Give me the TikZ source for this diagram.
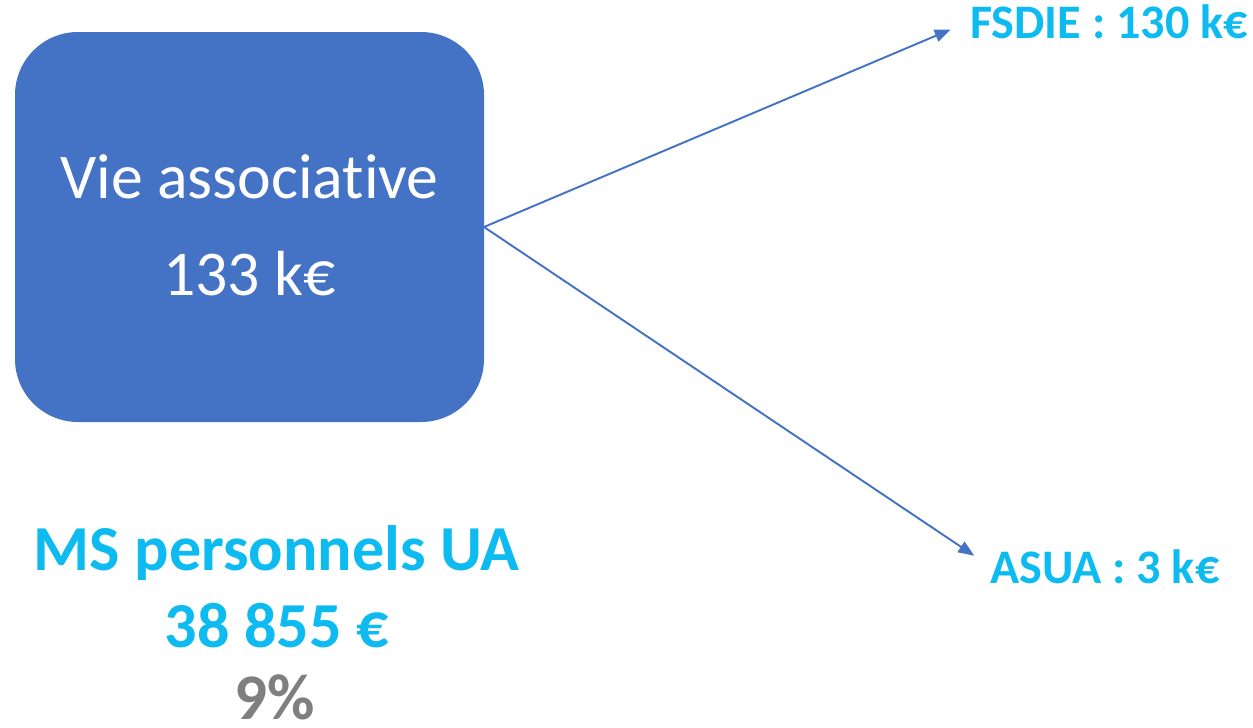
\documentclass[tikz,border=0pt]{standalone}
\usepackage{fontspec}
\setmainfont{Carlito}[Ligatures={NoCommon,NoContextual}]
\usepackage{tikz}
\usetikzlibrary{arrows.meta}
\definecolor{boxblue}{HTML}{4472C4}
\definecolor{sumblue}{HTML}{0DBBF0}
\definecolor{pctgray}{HTML}{7F7F7F}
\tikzset{
  budget/.style={fill=boxblue,rounded corners=63*0.02cm},
  flow/.style={draw=boxblue,line width=1.1pt,-{Triangle[length=0.32cm,width=0.25cm]}},
  share/.style={inner sep=0,text=sumblue,font=\fontsize{#1}{#1}\selectfont\bfseries},
  share/.default=27.4
}

\begin{document}
\begin{tikzpicture}[x=0.02cm,y=-0.02cm]
\useasboundingbox (0,0) rectangle (1253,727);
\path[budget] (15,32) rectangle (484,422);
\node[inner sep=0,anchor=base,text=white,font=\fontsize{36.3}{36.3}\selectfont] (vietitle) at (249.5,198) {Vie associative};
\node[inner sep=0,anchor=base,text=white,font=\fontsize{36.3}{36.3}\selectfont] (vieamount) at (249.5,295) {133 k€};
\node[share,anchor=base west] (fsdie) at (970,38) {FSDIE : 130 k€};
\node[share,anchor=base west] (asua) at (990,583) {ASUA : 3 k€};
\foreach \target/\gap in {fsdie/21,asua/19}
  \draw[flow,shorten >=\gap*0.02cm] (484,227) -- (\target.west);
\node[share=36.5,anchor=base] (ms) at (276.5,570) {MS personnels UA};
\node[share=36.5,anchor=base] (amount) at (276.5,647) {38 855 €};
\node[share=37,anchor=base,text=pctgray] (pct) at (275,719) {9\%};
\end{tikzpicture}
\end{document}
